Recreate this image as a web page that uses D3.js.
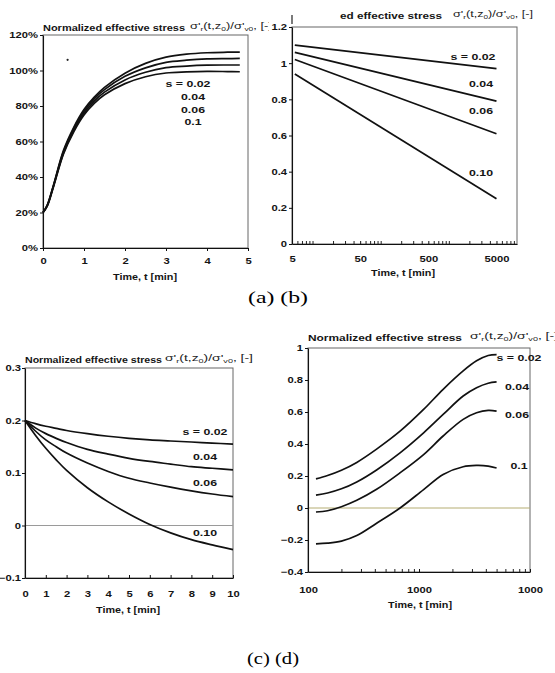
<!DOCTYPE html>
<html><head><meta charset="utf-8">
<script src="https://cdn.jsdelivr.net/npm/d3@7"></script>
<style>body{margin:0;background:#fff}svg{display:block}</style>
</head><body>
<svg id="c" width="555" height="673"></svg>
<script>
// ---------- DATA ----------
// (a) linear time, percent
const aTime = [0, 0.1, 0.25, 0.5, 0.75, 1, 1.25, 1.5, 2, 2.5, 3, 3.5, 4, 4.5, 4.8];
const aS002 = [20, 24.0, 35.0, 55.0, 68.0, 78.0, 85.0, 90.5, 98.5, 104.0, 107.5, 109.2, 110.0, 110.3, 110.4];
const aS004 = [20, 23.8, 34.7, 54.3, 67.2, 77.0, 84.0, 89.2, 96.7, 101.5, 104.6, 105.8, 106.5, 106.7, 106.8];
const aS006 = [20, 23.6, 34.4, 53.6, 66.4, 76.0, 82.8, 87.8, 94.7, 99.0, 101.6, 102.5, 103.0, 103.1, 103.1];
const aS010 = [20, 23.4, 34.0, 53.0, 65.5, 75.0, 81.5, 86.3, 92.6, 96.5, 98.6, 99.2, 99.5, 99.4, 99.3];
const aLabels = ["s = 0.02", "0.04", "0.06", "0.1"];
const aXTicks = [0, 1, 2, 3, 4, 5];
const aYTicks = [0, 20, 40, 60, 80, 100, 120];
const aDot = [0.6, 106];

// (b) log time
const bTime = [5.5, 5000];
const bS002 = [1.10, 0.97];
const bS004 = [1.06, 0.79];
const bS006 = [1.02, 0.61];
const bS010 = [0.94, 0.25];
const bLabels = ["s = 0.02", "0.04", "0.06", "0.10"];
const bXTicks = [5, 50, 500, 5000];
const bYTicks = [0, 0.2, 0.4, 0.6, 0.8, 1, 1.2];

// (c) linear time
const cTime = [0, 0.5, 1, 1.5, 2, 3, 4, 5, 6, 7, 8, 9, 10];
const cS002 = [0.2, 0.194, 0.189, 0.185, 0.181, 0.175, 0.170, 0.166, 0.163, 0.161, 0.159, 0.157, 0.155];
const cS004 = [0.2, 0.186, 0.175, 0.166, 0.158, 0.145, 0.136, 0.128, 0.122, 0.117, 0.112, 0.109, 0.106];
const cS006 = [0.2, 0.180, 0.163, 0.150, 0.138, 0.119, 0.103, 0.090, 0.081, 0.073, 0.066, 0.060, 0.055];
const cS010 = [0.2, 0.172, 0.147, 0.125, 0.105, 0.072, 0.045, 0.022, 0.002, -0.014, -0.027, -0.037, -0.046];
const cLabels = ["s = 0.02", "0.04", "0.06", "0.10"];
const cXTicks = [0, 1, 2, 3, 4, 5, 6, 7, 8, 9, 10];
const cYTicks = [-0.1, 0, 0.1, 0.2, 0.3];

// (d) log time
const dTime = [118, 150, 200, 275, 415, 675, 1100, 1650, 2500, 3300, 4200, 5000];
const dS002 = [0.182, 0.203, 0.236, 0.285, 0.368, 0.480, 0.616, 0.742, 0.857, 0.920, 0.953, 0.958];
const dS004 = [0.080, 0.094, 0.120, 0.163, 0.238, 0.345, 0.470, 0.585, 0.700, 0.752, 0.780, 0.788];
const dS006 = [-0.025, -0.017, 0.008, 0.048, 0.117, 0.220, 0.334, 0.450, 0.554, 0.595, 0.610, 0.606];
const dS010 = [-0.224, -0.220, -0.207, -0.172, -0.095, 0.000, 0.115, 0.210, 0.258, 0.266, 0.262, 0.250];
const dLabels = ["s = 0.02", "0.04", "0.06", "0.1"];
const dXTicks = [100, 1000, 10000];
const dXTickLabels = ["100", "1000", "1000"];
const dYTicks = [-0.4, -0.2, 0, 0.2, 0.4, 0.6, 0.8, 1];

const titleText = "Normalized effective stress";
const xTitle = "Time, t [min]";
const captions = ["(a) (b)", "(c) (d)"];

// ---------- DRAWING ----------
const FONT = '"Liberation Sans", Arial, sans-serif';
const svg = d3.select("#c");
svg.append("rect").attr("width", 555).attr("height", 673).attr("fill", "#fff");

function txt(g, x, y, s, o = {}) {
  return g.append("text")
    .attr("transform", `translate(${x},${y}) scale(${o.sx || 1},1)`)
    .attr("text-anchor", o.anchor || "start")
    .attr("font-size", o.size || 9)
    .attr("font-weight", o.weight || "bold")
    .attr("font-family", o.family || FONT)
    .attr("fill", o.fill || "#151515")
    .text(s);
}
function formula(g, x, y, len) {
  const t = g.append("text").attr("x", x).attr("y", y)
    .attr("font-family", FONT).attr("font-size", 8.5).attr("fill", "#222");
  const parts = [["σ'", 0, 8.5], ["r", 2, 5.5], ["(t,z", -2, 8.5], ["0", 2, 5.5],
                 [")/σ'", -2, 8.5], ["v0", 2, 5.5], [", [-]", -2, 8.5]];
  parts.forEach(([s, dy, fs]) => t.append("tspan").attr("dy", dy).attr("font-size", fs).text(s));
  t.attr("textLength", len).attr("lengthAdjust", "spacingAndGlyphs");
}

function panel(p) {
  const g = svg.append("g");
  if (p.cover) {
    g.append("rect").attr("x", p.cover[0]).attr("y", p.cover[1])
      .attr("width", p.cover[2]).attr("height", p.cover[3]).attr("fill", "#fff");
  }
  const x = (p.log ? d3.scaleLog() : d3.scaleLinear()).domain(p.xd).range(p.xr);
  const y = d3.scaleLinear().domain(p.yd).range(p.yr);
  g.append("rect").attr("x", p.xr[0]).attr("y", p.yr[1])
    .attr("width", p.xr[1] - p.xr[0]).attr("height", p.yr[0] - p.yr[1])
    .attr("fill", "none").attr("stroke", "#666").attr("stroke-width", 1);
  if (p.zeroColor) {
    g.append("line").attr("x1", p.xr[0]).attr("x2", p.xr[1])
      .attr("y1", y(0)).attr("y2", y(0)).attr("stroke", p.zeroColor).attr("stroke-width", 1);
  }
  // x axis
  const xa = d3.axisBottom(x).tickValues(p.xt).tickFormat((d, i) => p.xtl[i])
    .tickSizeInner(p.xIn ? -3 : 3).tickSizeOuter(0).tickPadding(p.xpad);
  const gx = g.append("g").attr("transform", `translate(0,${p.yr[0]})`).call(xa);
  if (p.log) {
    const minor = [];
    const lo = p.xd[0], hi = p.xd[1];
    for (let e = Math.floor(Math.log10(lo)); e <= Math.ceil(Math.log10(hi)); e++)
      for (let m = 1; m < 10; m++) { const v = m * Math.pow(10, e); if (v > lo && v < hi && !p.xt.includes(v)) minor.push(v); }
    const gm = g.append("g").attr("transform", `translate(0,${p.yr[0]})`)
      .call(d3.axisBottom(x).tickValues(minor).tickFormat("").tickSizeInner(-3).tickSizeOuter(0));
    gm.select(".domain").remove();
    gm.selectAll("line").attr("stroke", "#222");
  }
  // y axis
  const ya = d3.axisLeft(y).tickValues(p.yt).tickFormat(p.yf).tickSizeInner(3).tickSizeOuter(0).tickPadding(p.ypad);
  const gy = g.append("g").attr("transform", `translate(${p.xr[0]},0)`).call(ya);
  const sx = 1.25;
  [gx, gy].forEach(a => {
    a.select(".domain").attr("stroke", "#111").attr("stroke-width", 1.1);
    a.selectAll(".tick line").attr("stroke", "#111");
    a.selectAll("text").attr("font-family", FONT).attr("font-size", 9)
      .attr("font-weight", "bold").attr("fill", "#151515");
  });
  gx.selectAll("text").attr("transform", `scale(${sx},1)`);
  gy.selectAll("text").attr("x", -(3 + p.ypad) / sx).attr("transform", `scale(${sx},1)`);
  // curves
  const line = d3.line().x(d => x(d[0])).y(d => y(d[1])).curve(d3.curveCatmullRom.alpha(0.5));
  p.series.forEach(s => {
    g.append("path").datum(p.t.map((t, i) => [t, s[i]])).attr("d", line)
      .attr("fill", "none").attr("stroke", "#111").attr("stroke-width", 1.7);
  });
  if (p.dot) g.append("circle").attr("cx", x(p.dot[0])).attr("cy", y(p.dot[1])).attr("r", 1.1).attr("fill", "#222");
  // labels
  p.labels.forEach((l, i) => txt(g, p.lp[i][0], p.lp[i][1], l, { anchor: "middle", size: 9.5, sx: 1.3 }));
  // titles
  const tt = txt(g, p.title[0], p.title[1], p.titleStr || titleText, { size: 9 });
  tt.attr("transform", null).attr("x", p.title[0]).attr("y", p.title[1])
    .attr("textLength", p.title[2]).attr("lengthAdjust", "spacingAndGlyphs");
  formula(g, p.form[0], p.form[1], p.form[2]);
  txt(g, p.xlab[0], p.xlab[1], xTitle, { anchor: "middle", size: 9, sx: 1.2 });
  return g;
}

// (a)
panel({
  xd: [0, 5], xr: [43, 248], yd: [0, 120], yr: [248, 35],
  xt: aXTicks, xtl: aXTicks.map(String), yt: aYTicks, yf: d => d + "%",
  xpad: 6.8, ypad: 2,
  t: aTime, series: [aS002, aS004, aS006, aS010], dot: aDot,
  labels: aLabels, lp: [[188, 87], [193, 100], [193, 113], [193, 125]],
  title: [43, 31, 142], form: [190, 29, 82], xlab: [145, 280]
});
// (b) drawn over the right part of (a)
const gb = panel({
  cover: [269, 0, 286, 290],
  log: true, xd: [5, 10000], xr: [292, 517], yd: [0, 1.2], yr: [244, 27],
  xt: bXTicks, xtl: bXTicks.map(String), xIn: true, yt: bYTicks, yf: d => d3.format("")(+d.toFixed(1)),
  xpad: 11.8, ypad: 2,
  t: bTime, series: [bS002, bS004, bS006, bS010],
  labels: bLabels, lp: [[473, 60], [481, 87], [481, 114], [481, 176]],
  title: [340, 19, 102], titleStr: "ed effective stress", form: [453, 17, 80], xlab: [403, 276]
});
gb.append("line").attr("x1", 292).attr("x2", 292).attr("y1", 15).attr("y2", 24).attr("stroke", "#222").attr("stroke-width", 1.2);
// (c)
panel({
  xd: [0, 10], xr: [25, 233], yd: [-0.1, 0.3], yr: [578, 368],
  xt: cXTicks, xtl: cXTicks.map(String), xIn: true, yt: cYTicks, yf: d => d3.format("")(+d.toFixed(1)),
  xpad: 12.8, ypad: 1, zeroColor: "#9a9a9a",
  t: cTime, series: [cS002, cS004, cS006, cS010],
  labels: cLabels, lp: [[205, 435], [205, 460], [205, 486], [205, 536]],
  title: [25, 363, 137], form: [165, 361, 88], xlab: [128, 613]
});
// (d)
panel({
  log: true, xd: [100, 10000], xr: [308, 530], yd: [-0.4, 1], yr: [572, 348],
  xt: dXTicks, xtl: dXTickLabels, xIn: true, yt: dYTicks, yf: d => d3.format("")(+d.toFixed(1)),
  xpad: 14.8, ypad: 2, zeroColor: "#b5ad72",
  t: dTime, series: [dS002, dS004, dS006, dS010],
  labels: dLabels, lp: [[519, 361], [517, 390], [517, 418], [519, 469]],
  title: [308, 341, 154], form: [470, 339, 88], xlab: [420, 608]
});

// captions
txt(svg, 278, 303, captions[0], { anchor: "middle", size: 17, weight: "normal", family: '"Liberation Serif", "Times New Roman", serif', fill: "#000" })
  .attr("transform", null).attr("x", 248).attr("y", 303).attr("text-anchor", "start").attr("textLength", 60).attr("lengthAdjust", "spacingAndGlyphs");
txt(svg, 272, 664, captions[1], { anchor: "middle", size: 17, weight: "normal", family: '"Liberation Serif", "Times New Roman", serif', fill: "#000" })
  .attr("transform", null).attr("x", 247).attr("y", 664).attr("text-anchor", "start").attr("textLength", 52).attr("lengthAdjust", "spacingAndGlyphs");
</script>
</body></html>
